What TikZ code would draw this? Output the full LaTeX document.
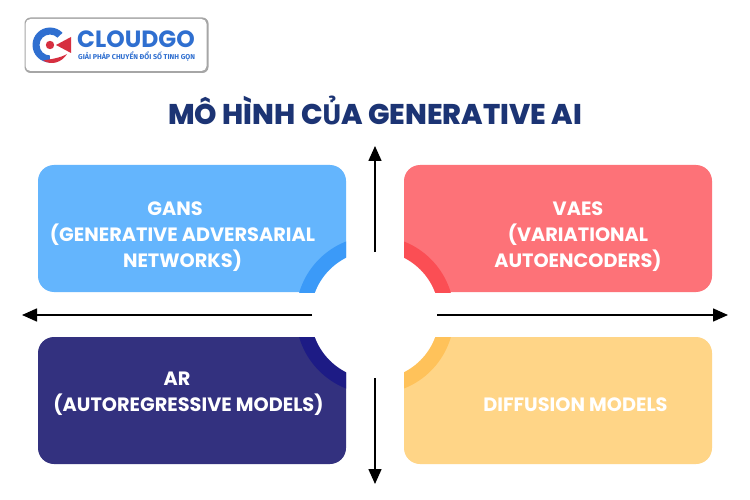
\documentclass[tikz,border=0pt]{standalone}
\usepackage{fontspec}
\setmainfont{Poppins}[BoldFont={* Bold}]
\newfontfamily\heavy{Poppins ExtraBold}
\newfontfamily\fira{Fira Sans}[BoldFont={* Bold}]
\usetikzlibrary{arrows.meta}
\definecolor{cblue}{HTML}{64B5FD}\definecolor{cbluedark}{HTML}{3B9AF8}
\definecolor{cred}{HTML}{FD7278}\definecolor{creddark}{HTML}{FB4E54}
\definecolor{cnavy}{HTML}{33317F}\definecolor{cnavydark}{HTML}{1D1B85}
\definecolor{cyel}{HTML}{FFD587}\definecolor{cyeldark}{HTML}{FFC25A}
\definecolor{ctitle}{HTML}{1C3474}\definecolor{clogo}{HTML}{2F6FD0}\definecolor{clogored}{HTML}{D62F40}
\tikzset{
 x=1pt,y=-1pt,
 lbl/.style={font=\bfseries\fontsize{19.3}{26}\selectfont,align=center,text=white},
 axis/.style={line width=1.6pt,-{Triangle[length=15pt,width=13pt]}},
}
\begin{document}
\begin{tikzpicture}
\useasboundingbox (0,0) rectangle (750,500);
\fill[white] (0,0) rectangle (750,500);
% logo
\fill[black!35,rounded corners=6pt] (24.5,17.5) rectangle (208.5,73);
\node[draw=none,fill=white,rounded corners=5pt,minimum width=181pt,minimum height=52pt,inner sep=0pt] (logobox) at (116,45) {};
\fill[clogo,even odd rule] (50,45) circle (17.5) (50,45) circle (10.5);
\fill[white] (50,45) -- (72,24) -- (80,66) -- (50,66) -- cycle;
\fill[clogored] (43,60.5) .. controls (52,66) and (62,62) .. (67,54) .. controls (60,58) and (52,59) .. (43,60.5) -- cycle;
\fill[clogored] (56,45) -- (71,37) -- (71,53) -- cycle;
\fill[clogored] (50,45) circle (4.2);
\node[font=\bfseries\fontsize{23.5}{24}\selectfont,text=clogo,anchor=west,inner sep=0pt] (logoname) at (77,39) {CLOUDGO};
\node[font=\fira\bfseries\fontsize{7.1}{8}\selectfont,text=clogo,anchor=west,inner sep=0pt] (logosub) at (78,56.5) {GIẢI PHÁP CHUYỂN ĐỔI SỐ TINH GỌN};
% title
\node[font=\heavy\fontsize{28.5}{30}\selectfont,text=ctitle,inner sep=0pt] (title) at (375,110) {MÔ HÌNH C{\fira\bfseries Ủ}A GENERATIVE AI};
% boxes
\fill[cblue,rounded corners=16pt] (38,165) rectangle (346,292);
\fill[cred,rounded corners=16pt] (404,165) rectangle (712,292);
\fill[cnavy,rounded corners=16pt] (38,337) rectangle (346,464);
\fill[cyel,rounded corners=16pt] (404,337) rectangle (712,464);
\begin{scope}\clip (38,165) rectangle (346,292); \fill[cbluedark] (375,315) circle (79);\end{scope}
\begin{scope}\clip (404,165) rectangle (712,292); \fill[creddark] (375,315) circle (79);\end{scope}
\begin{scope}\clip (38,337) rectangle (346,464); \fill[cnavydark] (375,315) circle (79);\end{scope}
\begin{scope}\clip (404,337) rectangle (712,464); \fill[cyeldark] (375,315) circle (79);\end{scope}
\fill[white] (375,315) circle (64);
% labels
\node[lbl] (a) at (182.5,237) {GANS\hspace*{15pt}\\(GENERATIVE ADVERSARIAL\\NETWORKS)};
\node[lbl] (b) at (578,237) {VAES\\(VARIATIONAL\\AUTOENCODERS)};
\node[lbl] (c) at (188.5,394) {AR\hspace*{23pt}\\(AUTOREGRESSIVE MODELS)};
\node[lbl] (d) at (575.5,405) {DIFFUSION MODELS};
% arrows
\coordinate (cl) at (312,315); \coordinate (cr) at (437,315);
\coordinate (ct) at (375,252); \coordinate (cb) at (375,378);
\coordinate (el) at (22,315); \coordinate (er) at (728,315);
\coordinate (et) at (375,146); \coordinate (eb) at (375,484);
\draw[axis] (cl) -- (el);
\draw[axis] (cr) -- (er);
\draw[axis] (ct) -- (et);
\draw[axis] (cb) -- (eb);
\end{tikzpicture}
\end{document}
